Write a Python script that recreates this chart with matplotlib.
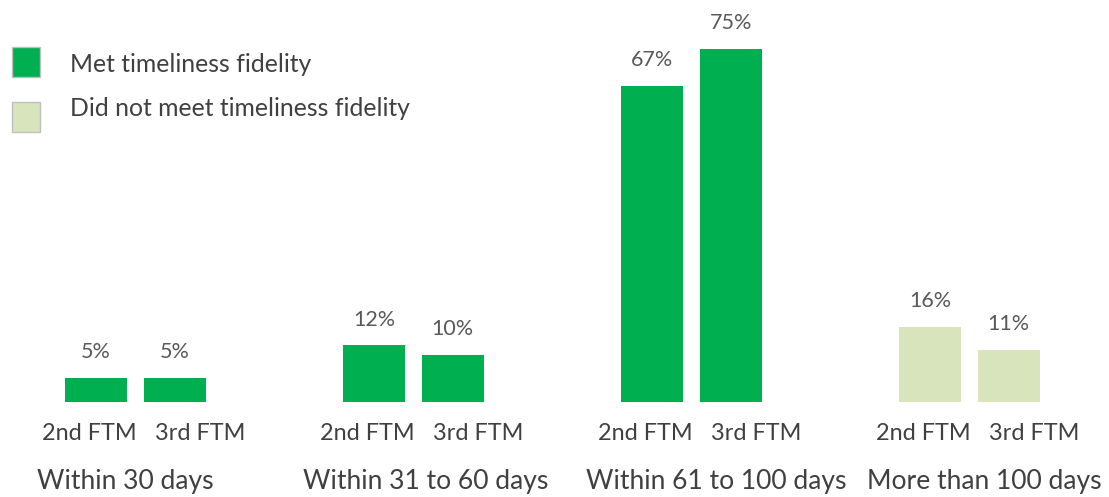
import matplotlib
matplotlib.use("Agg")
import matplotlib.pyplot as plt
from matplotlib.patches import Rectangle

# Data
groups = ["Within 30 days", "Within 31 to 60 days", "Within 61 to 100 days", "More than 100 days"]
series = ["2nd FTM", "3rd FTM"]
second_ftm = [5, 12, 67, 16]
third_ftm = [5, 10, 75, 11]
met_fidelity = [True, True, True, False]
legend_labels = ["Met timeliness fidelity", "Did not meet timeliness fidelity"]

GREEN = "#00B050"
LIGHT = "#D8E4BC"
TEXT = "#404040"
VALTEXT = "#595959"

plt.rcParams["font.family"] = ["Lato", "DejaVu Sans"]

W, H = 1109, 497
fig = plt.figure(figsize=(W / 100, H / 100), dpi=100)
ax = fig.add_axes([0, 0, 1, 1])

group_step_px = 278.0
first_center_px = 135.5
base_px = 95.0          # baseline height from the bottom edge
px_per_pct = 4.71

ax.set_xlim(-first_center_px / group_step_px, (W - first_center_px) / group_step_px)
ax.set_ylim(-base_px / px_per_pct, (H - base_px) / px_per_pct)
ax.axis("off")

bar_w = 62 / group_step_px
offset = 39.3 / group_step_px
# horizontal placement of the two-level category labels (in pixels)
series_label_shift = [-46, 65]
group_label_shift = [-10.5, 12.5, 24.5, 14.5]

xform = ax.get_xaxis_transform()
for i, g in enumerate(groups):
    color = GREEN if met_fidelity[i] else LIGHT
    for j, vals in enumerate([second_ftm, third_ftm]):
        x = i + (-offset if j == 0 else offset)
        v = vals[i]
        ax.bar(x, v, width=bar_w, color=color, edgecolor="none")
        ax.annotate(f"{v}%", (x, v), xytext=(0, 18.7), textcoords="offset points",
                    ha="center", va="center", fontsize=15.5, color=VALTEXT)
        ax.text(i + series_label_shift[j] / group_step_px, 1 - 434 / H, series[j],
                transform=xform, ha="center", va="center", fontsize=16.9, color=TEXT)
    ax.text(i + group_label_shift[i] / group_step_px, 1 - 482 / H, g, transform=xform,
            ha="center", va="center", fontsize=19.1, color=TEXT)

# Legend drawn as figure-level swatches and labels
legend_colors = [GREEN, LIGHT]
swatch_top = [47, 102]
text_y = [64, 108]
for c, top, ty, lab in zip(legend_colors, swatch_top, text_y, legend_labels):
    fig.patches.append(Rectangle((12 / W, 1 - (top + 30) / H), 28 / W, 30 / H,
                                 transform=fig.transFigure, facecolor=c,
                                 edgecolor="#BFBFBF", linewidth=1))
    fig.text(70 / W, 1 - ty / H, lab, ha="left", va="center", fontsize=17.8, color=TEXT)

fig.savefig("out.png", dpi=100)
